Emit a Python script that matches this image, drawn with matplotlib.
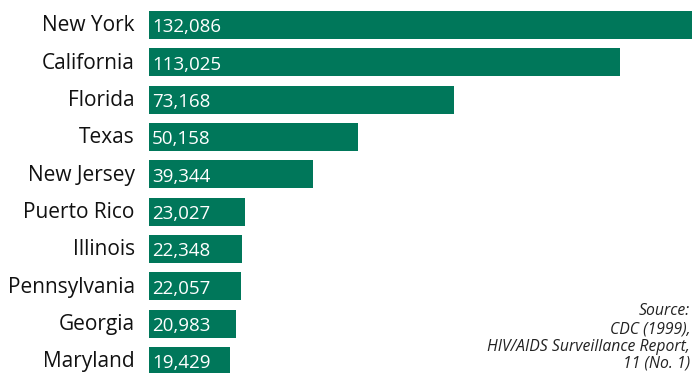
import matplotlib.pyplot as plt

states = ["New York", "California", "Florida", "Texas", "New Jersey",
          "Puerto Rico", "Illinois", "Pennsylvania", "Georgia", "Maryland"]
cases = [132086, 113025, 73168, 50158, 39344, 23027, 22348, 22057, 20983, 19429]
source_lines = ["Source:", "CDC (1999),", "HIV/AIDS Surveillance Report,", "11 (No. 1)"]

green = "#00775A"
plt.rcParams['font.family'] = ['Open Sans', 'DejaVu Sans']

fig = plt.figure(figsize=(6.92, 3.73), dpi=100)
ax = fig.add_axes([149 / 692, 0, 543 / 692, 1])

y = list(range(len(states)))
ax.barh(y, cases, height=0.75, color=green)
ax.set_xlim(0, 130300)
ax.set_ylim(9.317, -0.669)

for i, (s, v) in enumerate(zip(states, cases)):
    ax.text(-3400, i + 0.02, s, ha="right", va="center", fontsize=15, color="#111111")
    ax.text(700, i + 0.06, f"{v:,}", ha="left", va="center", fontsize=13.5, color="white")

ax.axis("off")

ys = [311, 329, 347, 364]
for line, py in zip(source_lines, ys):
    fig.text(690 / 692, 1 - py / 373, line, ha="right", va="center",
             fontsize=11.3, style="italic", color="#222222")

fig.savefig("out.png", dpi=100)
